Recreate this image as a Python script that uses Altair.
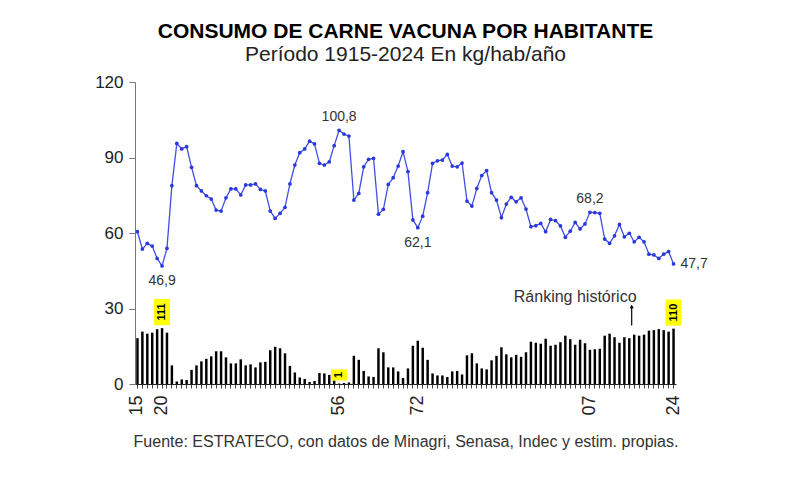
import altair as alt
import pandas as pd

# Consumo de carne vacuna por habitante (kg/hab/año), 1915-2024
anios = list(range(1915, 2025))
consumo = [
    60.5, 53.6, 55.9, 54.8, 49.9, 46.9, 53.9, 78.8, 95.6, 93.4,
    94.3, 86.1, 78.8, 76.7, 74.8, 73.5, 69.1, 68.7, 74.0, 77.5,
    77.5, 75.1, 79.1, 79.1, 79.5, 77.3, 76.7, 68.7, 65.8, 67.8,
    70.2, 79.5, 87.0, 91.9, 93.4, 96.5, 95.4, 87.7, 87.0, 88.3,
    94.7, 100.8, 99.3, 98.5, 73.1, 75.7, 86.3, 89.3, 89.7, 67.5,
    69.4, 79.3, 82.0, 86.6, 92.3, 84.4, 65.2, 62.1, 66.7, 76.0,
    87.7, 88.7, 89.0, 91.2, 86.6, 86.3, 87.8, 72.7, 70.7, 77.7,
    82.8, 84.8, 76.0, 73.1, 66.1, 71.5, 74.2, 72.4, 74.0, 69.5,
    62.5, 62.9, 63.8, 60.5, 65.4, 64.9, 62.8, 58.3, 60.7, 64.2,
    61.6, 63.6, 68.2, 68.1, 67.8, 57.6, 55.9, 58.9, 63.4, 58.5,
    59.9, 56.5, 58.3, 56.5, 51.6, 51.3, 49.9, 51.6, 52.6, 47.7,
]
# Ránking histórico de cada año (1 = mayor consumo)
ranking = [
    91, 104, 100, 102, 109, 111, 102, 37, 5, 9,
    8, 28, 37, 45, 50, 55, 65, 65, 53, 41,
    41, 49, 37, 39, 33, 43, 44, 67, 74, 71,
    61, 36, 23, 13, 10, 4, 6, 22, 21, 18,
    7, 1, 2, 3, 56, 48, 26, 15, 14, 71,
    63, 33, 33, 25, 12, 31, 76, 86, 72, 48,
    21, 17, 17, 14, 25, 26, 19, 57, 61, 41,
    31, 29, 47, 56, 73, 59, 53, 58, 54, 63,
    84, 82, 80, 90, 76, 78, 83, 96, 89, 78,
    88, 81, 68, 69, 70, 96, 100, 93, 82, 93,
    91, 98, 96, 98, 106, 107, 109, 107, 104, 110,
]

anios_etiqueta = [1915, 1920, 1956, 1972, 2007, 2024]
anotados_abajo = [1920, 1972]
anotados_arriba = [1956, 2007]
ultimo_anio = 2024
ranking_destacado = [1920, 1956, 2024]
anio_nota = 2004
anio_flecha = 2016

df = pd.DataFrame({"anio": anios, "consumo": consumo, "ranking": ranking})

FONT = "Liberation Sans"
AZUL = "#3f4fe6"

x_enc = alt.X(
    "anio:O",
    scale=alt.Scale(paddingInner=0.5, paddingOuter=0.25),
    axis=alt.Axis(
        labelExpr="indexof(" + str(anios_etiqueta) + ", datum.value) >= 0 ? substring(toString(datum.value), 2) : ''",
        labelAngle=270,
        labelAlign="right",
        labelBaseline="middle",
        labelFontSize=18,
        labelColor="#222",
        labelPadding=7,
        labelOverlap=False,
        tickSize=4,
        tickColor="#444",
        domainColor="#222",
        titleFontSize=16,
        titleFontWeight="normal",
        titleColor="#333",
        titlePadding=18,
    ),
    title="Fuente: ESTRATECO, con datos de Minagri, Senasa, Indec y estim. propias.",
)


def y_enc(field):
    return alt.Y(
        field,
        type="quantitative",
        scale=alt.Scale(domain=[0, 120], nice=False),
        axis=alt.Axis(
            values=[0, 30, 60, 90, 120],
            grid=False,
            labelFontSize=17,
            labelColor="#222",
            labelPadding=6,
            tickSize=6,
            tickColor="#777",
            domainColor="#777",
        ),
        title=None,
    )


base = alt.Chart(df)

barras = base.transform_calculate(alto="datum.ranking / 5").mark_bar(color="black").encode(
    x=x_enc, y=y_enc("alto")
)

linea = base.mark_line(
    color=AZUL, strokeWidth=1.3,
    point=alt.OverlayMarkDef(filled=True, size=14, color="#2a38dc"),
).encode(x=x_enc, y=y_enc("consumo"))

etiquetado = base.transform_calculate(
    txt="replace(format(datum.consumo, '.1f'), '.', ',')"
)
txt_style = dict(font=FONT, fontSize=14, color="#333")

abajo = etiquetado.transform_filter(
    alt.FieldOneOfPredicate(field="anio", oneOf=anotados_abajo)
).mark_text(dy=15, **txt_style).encode(x=x_enc, y=y_enc("consumo"), text="txt:N")

arriba = etiquetado.transform_filter(
    alt.FieldOneOfPredicate(field="anio", oneOf=anotados_arriba)
).mark_text(dy=-13, **txt_style).encode(x=x_enc, y=y_enc("consumo"), text="txt:N")

final = etiquetado.transform_filter(
    alt.datum.anio == ultimo_anio
).mark_text(dx=7, align="left", **txt_style).encode(x=x_enc, y=y_enc("consumo"), text="txt:N")

destacados = base.transform_filter(
    alt.FieldOneOfPredicate(field="anio", oneOf=ranking_destacado)
).transform_calculate(
    rtxt="toString(datum.ranking)",
    lo="datum.ranking / 5 + 1.2",
).transform_calculate(
    hi="datum.lo + 3 * length(datum.rtxt) + 1.4",
).transform_calculate(
    mid="(datum.lo + datum.hi) / 2",
)

cajas = destacados.mark_bar(color="#ffff00", width=16).encode(
    x=x_enc, y=y_enc("lo"), y2="hi:Q"
)
cajas_txt = destacados.mark_text(
    angle=270, font=FONT, fontSize=11, fontWeight="bold", color="black"
).encode(x=x_enc, y=y_enc("mid"), text="rtxt:N")

nota_df = pd.DataFrame({"anio": [anio_nota], "y": [34.6], "txt": ["Ránking histórico"]})
nota = alt.Chart(nota_df).mark_text(font=FONT, fontSize=16, color="#333").encode(
    x=x_enc, y=y_enc("y"), text="txt:N"
)

flecha_df = pd.DataFrame({"anio": [anio_flecha], "y": [23.2], "y2": [30.8]})
flecha = alt.Chart(flecha_df).mark_rule(color="black", strokeWidth=1.2, xOffset=-2.5).encode(
    x=x_enc, y=y_enc("y"), y2="y2:Q"
)
punta = alt.Chart(flecha_df).mark_point(
    shape="triangle-up", filled=True, size=18, color="black", opacity=1, xOffset=-2.5
).encode(x=x_enc, y=y_enc("y2"))

chart = alt.layer(
    barras, linea, abajo, arriba, final, cajas, cajas_txt, nota, flecha, punta
).properties(
    width=541,
    height=302,
    autosize=alt.AutoSizeParams(type="none"),
    padding={"left": 127, "top": 74, "right": 110, "bottom": 90},
    title=alt.Title(
        "CONSUMO DE CARNE VACUNA POR HABITANTE",
        subtitle="Período 1915-2024 En kg/hab/año",
        font=FONT,
        fontSize=21,
        fontWeight="bold",
        color="black",
        subtitleFont=FONT,
        subtitleFontSize=21,
        subtitleColor="#222",
        subtitlePadding=2,
        anchor="middle",
        offset=8,
    ),
).configure_view(stroke=None).configure_axis(labelFont=FONT, titleFont=FONT)

chart.save("out.html", embed_options={"renderer": "svg", "actions": False})
